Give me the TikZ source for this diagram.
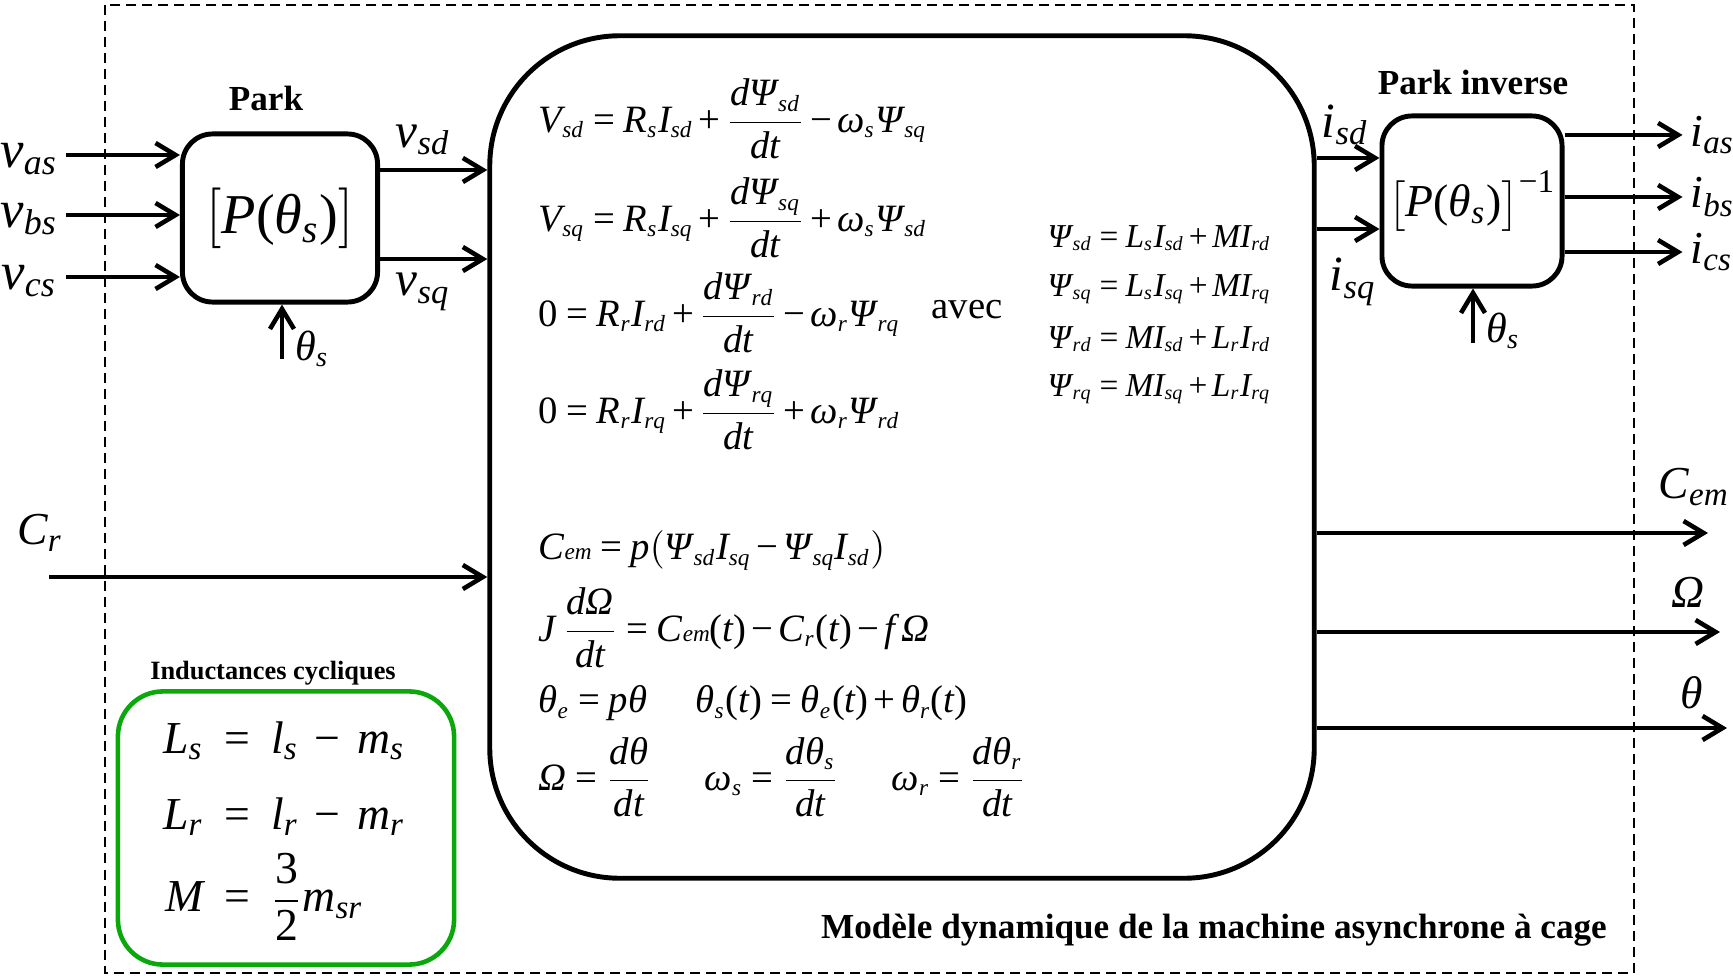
\documentclass[tikz,border=0pt]{standalone}
\usepackage{amsmath}
\usepackage[no-math]{fontspec}
\setmainfont{Liberation Serif}
\usepackage{xcolor}
\usetikzlibrary{arrows.meta, positioning}

% lettres mathematiques en Liberation Serif
\DeclareSymbolFont{tletters}{TU}{\rmdefault}{m}{it}
\DeclareSymbolFont{tdroit}{TU}{\rmdefault}{m}{n}
\newcount\lettre
\lettre=`a
\loop \Umathcode\lettre=7 \symtletters\lettre \ifnum\lettre<`z \advance\lettre by 1 \repeat
\lettre=`A
\loop \Umathcode\lettre=7 \symtletters\lettre \ifnum\lettre<`Z \advance\lettre by 1 \repeat
\lettre=`0
\loop \Umathcode\lettre=0 \symtdroit\lettre \ifnum\lettre<`9 \advance\lettre by 1 \repeat
\Umathcode`+=2 \symtdroit `+
\Umathcode`==3 \symtdroit `=
\Umathcode`-=2 \symtdroit "2212
\Umathcode`(=4 \symtdroit `(
\Umathcode`)=5 \symtdroit `)
\Umathchardef\theta=7 \symtletters "03B8
\Umathchardef\omega=7 \symtletters "03C9
\Umathchardef\varPsi=7 \symtletters "03A8
\Umathchardef\varOmega=7 \symtletters "03A9

\DeclareMathSizes{9.5}{9.5}{5.7}{4.5}
\DeclareMathSizes{11}{11}{6.6}{5}
\DeclareMathSizes{12}{12}{8}{6}
\DeclareMathSizes{13}{13}{9.4}{7}
\DeclareMathSizes{14}{14}{9.8}{7}
\DeclareMathSizes{15}{15}{10.2}{7.5}

\newcommand{\espserre}{\medmuskip=2.5mu\relax\thickmuskip=4mu\relax}
\newcommand{\espaere}{\medmuskip=7mu\relax\thickmuskip=9mu\relax}

\definecolor{vert}{RGB}{10,168,10}

\begin{document}
\begin{tikzpicture}[
        x=0.01cm, y=-0.01cm,
        box/.style={draw, line width=1.4pt, rounded corners=3mm, align=center, inner sep=0pt},
        arrow/.style={-{Straight Barb[length=2mm,width=2.4mm]}, line width=1.3pt},
        lbl/.style={inner sep=0pt},
        eq/.style={anchor=west, inner sep=0pt, font=\fontsize{11}{13}\selectfont\espserre},
        psi/.style={anchor=west, inner sep=0pt, font=\fontsize{9.5}{11}\selectfont\espserre},
        title/.style={inner sep=0pt, font=\fontsize{10}{12}\selectfont\bfseries}
    ]
    \useasboundingbox (0,0) rectangle (1733,976);

    % cadre du modele
    \draw[line width=0.6pt, dash pattern=on 1mm off 0.6mm] (105,5) rectangle (1634,973);
    \node[title] (modele) at (1214,930) {Modèle dynamique de la machine asynchrone à cage};

    % Park
    \node[box, minimum width=1.95cm, minimum height=1.68cm, font=\fontsize{16}{18}\selectfont] (park) at (280,218) {$\bigl[P(\theta_s)\bigr]$};
    \node[title] (parktitle) at (266,98) {Park};

    \foreach \nom/\yy in {as/155, bs/215, cs/277} {
        \coordinate (v\nom) at (66,\yy);
        \draw[arrow] (v\nom) -- (v\nom -| park.west);
        \node[lbl, font=\fontsize{15}{17}\selectfont] (lv\nom) at (29,\yy+4) {$v_{\nom}$};
    }

    \coordinate (ths) at (282,359);
    \draw[arrow] (ths) -- (ths |- park.south);
    \node[lbl, font=\fontsize{12}{14}\selectfont] (lths) at (312,349) {$\theta_s$};

    % modele dynamique
    \node[box, rounded corners=1.3cm, minimum width=8.24cm, minimum height=8.42cm] (model) at (902,457) {};

    \coordinate (vsd) at ([yshift=4.8mm]park.east);
    \coordinate (vsq) at ([yshift=-4.1mm]park.east);
    \draw[arrow] (vsd) -- (vsd -| model.west);
    \draw[arrow] (vsq) -- (vsq -| model.west);
    \node[lbl, font=\fontsize{14}{16}\selectfont] (lvsd) at (423,140) {$v_{sd}$};
    \node[lbl, font=\fontsize{14}{16}\selectfont] (lvsq) at (423,292) {$v_{sq}$};

    \coordinate (cr) at (49,577);
    \draw[arrow] (cr) -- (cr -| model.west);
    \node[lbl, font=\fontsize{13}{15}\selectfont] (lcr) at (40,533) {$C_r$};

    % equations
    \node[eq] (eq1) at (538,119) {$V_{sd} = R_s I_{sd} + \dfrac{d\varPsi_{\mkern1mu sd}}{dt} - \omega_s \varPsi_{\mkern1mu sq}$};
    \node[eq] (eq2) at (538,218) {$V_{sq} = R_s I_{sq} + \dfrac{d\varPsi_{\mkern1mu sq}}{dt} + \omega_s \varPsi_{\mkern1mu sd}$};
    \node[eq] (eq3) at (538,313) {$0 = R_r I_{rd} + \dfrac{d\varPsi_{\mkern1mu rd}}{dt} - \omega_r \varPsi_{\mkern1mu rq}$};
    \node[eq] (eq4) at (538,410) {$0 = R_r I_{rq} + \dfrac{d\varPsi_{\mkern1mu rq}}{dt} + \omega_r \varPsi_{\mkern1mu rd}$};
    \node[eq, anchor=center] (avec) at (967,310) {avec};

    \node[psi] (psi1) at (1047,238) {$\varPsi_{\mkern1mu sd} = L_s I_{sd} + M I_{rd}$};
    \node[psi] (psi2) at (1047,289) {$\varPsi_{\mkern1mu sq} = L_s I_{sq} + M I_{rq}$};
    \node[psi] (psi3) at (1047,339) {$\varPsi_{\mkern1mu rd} = M I_{sd} + L_r I_{rd}$};
    \node[psi] (psi4) at (1047,389) {$\varPsi_{\mkern1mu rq} = M I_{sq} + L_r I_{rq}$};

    \node[eq] (eq5) at (538,550) {$C{\scriptstyle em} = p\bigl(\varPsi_{\mkern1mu sd} I_{sq} - \varPsi_{\mkern1mu sq} I_{sd}\bigr)$};
    \node[eq] (eq6) at (538,628) {$J\,\dfrac{d\varOmega}{dt} = C{\scriptstyle em}(t) - C_r(t) - f\,\varOmega$};
    \node[eq] (eq7) at (538,703) {$\theta_e = p\theta$};
    \node[eq] (eq8) at (695,703) {$\theta_s(t) = \theta_e(t) + \theta_r(t)$};
    \node[eq] (eq9) at (538,777) {$\varOmega = \dfrac{d\theta}{dt}$};
    \node[eq] (eq10) at (704,777) {$\omega_s = \dfrac{d\theta_s}{dt}$};
    \node[eq] (eq11) at (891,777) {$\omega_r = \dfrac{d\theta_r}{dt}$};

    % sorties mecaniques
    \foreach \nom/\yy/\xx/\lab/\lx/\ly in {cem/533/1708/C_{em}/1694/487, om/632/1720/\varOmega/1688/592, th/728/1727/\theta/1692/693} {
        \coordinate (o\nom) at (\xx,\yy);
        \draw[arrow] (o\nom -| model.east) -- (o\nom);
        \node[lbl, font=\fontsize{13}{15}\selectfont] (lo\nom) at (\lx,\ly) {$\lab$};
    }

    % Park inverse
    \node[box, minimum width=1.8cm, minimum height=1.7cm, font=\fontsize{13}{15}\selectfont] (parkinv) at (1472,201) {$\bigl[P(\theta_s)\bigr]^{-1}$};
    \node[title] (parkinvtitle) at (1473,82) {Park inverse};

    \coordinate (isd) at ([yshift=4.3mm]parkinv.west);
    \coordinate (isq) at ([yshift=-2.8mm]parkinv.west);
    \draw[arrow] (isd -| model.east) -- (isd);
    \draw[arrow] (isq -| model.east) -- (isq);
    \node[lbl, font=\fontsize{14}{16}\selectfont] (lisd) at (1345,125) {$i_{sd}$};
    \node[lbl, font=\fontsize{14}{16}\selectfont] (lisq) at (1353,282) {$i_{sq}$};

    \foreach \nom/\dy/\yy in {as/6.6mm/135, bs/0.4mm/197, cs/-5.1mm/252} {
        \coordinate (i\nom) at ([yshift=\dy]parkinv.east);
        \draw[arrow] (i\nom) -- ++(118,0);
        \node[lbl, anchor=west, font=\fontsize{13}{15}\selectfont] (li\nom) at (1690,\yy) {$i_{\nom}$};
    }

    \coordinate (thsi) at (1473,343);
    \draw[arrow] (thsi) -- (thsi |- parkinv.south);
    \node[lbl, font=\fontsize{12}{14}\selectfont] (lthsi) at (1503,331) {$\theta_s$};

    % inductances cycliques
    \node[draw=vert, line width=1.3pt, rounded corners=4.5mm, minimum width=3.36cm, minimum height=2.73cm] (induc) at (286,828) {};
    \node[title, font=\fontsize{7.5}{9}\selectfont\bfseries] (inductitle) at (273,673) {Inductances cycliques};
    \node[lbl, font=\fontsize{13}{15.6}\selectfont\espaere] (inducq) at (284,828) {$\begin{aligned}
        L_s &= l_s - m_s\\[3pt]
        L_r &= l_r - m_r\\[-2pt]
        M &= \dfrac{3}{2}m_{sr}
    \end{aligned}$};

\end{tikzpicture}
\end{document}
